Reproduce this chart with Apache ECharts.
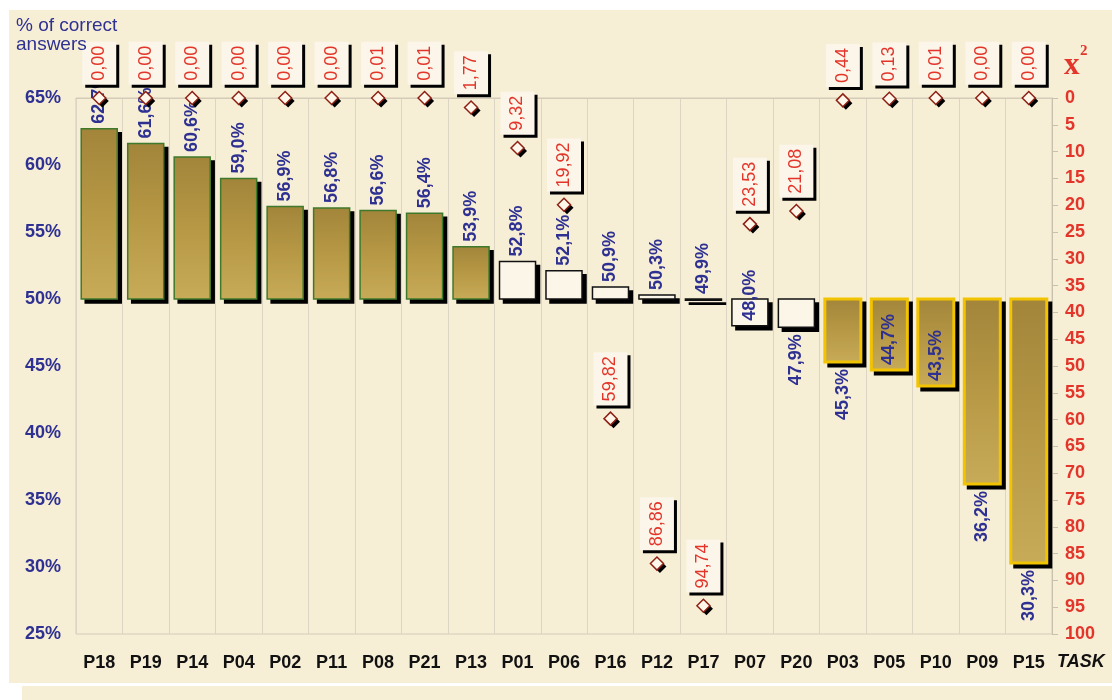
<!DOCTYPE html>
<html>
<head>
<meta charset="utf-8">
<title>% of correct answers and x² by task</title>
<script src="https://cdn.jsdelivr.net/npm/echarts@6/dist/echarts.min.js"></script>
<style>
  html, body { margin: 0; padding: 0; background: #ffffff; }
  #chart { width: 1112px; height: 700px; }
</style>
</head>
<body>
<div id="chart"></div>
<script>
// Tasks in display order
const categories = ['P18', 'P19', 'P14', 'P04', 'P02', 'P11', 'P08', 'P21', 'P13', 'P01', 'P06',
                    'P16', 'P12', 'P17', 'P07', 'P20', 'P03', 'P05', 'P10', 'P09', 'P15'];
// Share of correct answers per task (%)
const correct = [62.7, 61.6, 60.6, 59.0, 56.9, 56.8, 56.6, 56.4, 53.9, 52.8, 52.1,
                 50.9, 50.3, 49.9, 48.0, 47.9, 45.3, 44.7, 43.5, 36.2, 30.3];
// Chi-square statistic per task
const chi2 = [0.00, 0.00, 0.00, 0.00, 0.00, 0.00, 0.01, 0.01, 1.77, 9.32, 19.92,
              59.82, 86.86, 94.74, 23.53, 21.08, 0.44, 0.13, 0.01, 0.00, 0.00];
// Axis tick values
const pctTicks = [25, 30, 35, 40, 45, 50, 55, 60, 65];
const chiTicks = [0, 100];

const BASE = 50;            // bars grow up or down from the 50% line
const CHI_LIMIT = 5;        // tasks below this x² value get a gold bar
const insideLabelTasks = new Set(['P07', 'P05', 'P10']);

const BLUE = '#2e3192';
const RED = '#e3352a';
const SANS = '"Liberation Sans", Arial, sans-serif';
const SERIF = '"Liberation Serif", "Times New Roman", serif';

const comma = (v, d) => v.toFixed(d).replace('.', ',');

function goldFill() {
  return new echarts.graphic.LinearGradient(0, 0, 0, 1, [
    { offset: 0, color: '#a2853a' },
    { offset: 0.5, color: '#b69845' },
    { offset: 1, color: '#c8ab58' }
  ]);
}

function renderBar(params, api) {
  const i = params.dataIndex;
  const v = api.value(1);
  const p0 = api.coord([api.value(0), BASE]);
  const p1 = api.coord([api.value(0), v]);
  const band = api.size([1, 0])[0];
  const w = band * 0.775;
  const x = p0[0] - w / 2;
  const top = Math.min(p0[1], p1[1]);
  const h = Math.max(Math.abs(p1[1] - p0[1]), 1);
  const up = v >= BASE;
  const gold = chi2[i] < CHI_LIMIT;
  const lw = gold && !up ? 3 : 1.5;

  const style = {
    fill: gold ? goldFill() : '#fbf6e8',
    stroke: gold ? (up ? '#3f7a2c' : '#f2c300') : '#111111',
    lineWidth: lw
  };

  let ly, align;
  if (up || h < 3) {
    ly = top - 5; align = 'left';
  } else if (insideLabelTasks.has(categories[i])) {
    ly = top + h - 5; align = 'left';
  } else {
    ly = top + h + 7; align = 'right';
  }

  return {
    type: 'group',
    children: [
      // flat black drop shadow behind the bar
      {
        type: 'rect', z2: 0,
        shape: { x: x + 4 - lw / 2, y: top + 4 - lw / 2, width: w + lw, height: h + lw },
        style: { fill: '#000000' }
      },
      { type: 'rect', z2: 1, shape: { x: x, y: top, width: w, height: h }, style: style },
      {
        type: 'text', x: p0[0], y: ly, rotation: Math.PI / 2, z2: 5,
        style: {
          text: comma(v, 1) + '%',
          fill: BLUE,
          font: 'bold 18px ' + SANS,
          align: align,
          verticalAlign: 'middle'
        }
      }
    ]
  };
}

const chart = echarts.init(document.getElementById('chart'), null, { renderer: 'canvas' });

chart.setOption({
  backgroundColor: '#ffffff',
  animation: false,
  graphic: [
    { type: 'rect', z: -10, shape: { x: 9, y: 10, width: 1103, height: 673 }, style: { fill: '#f7eed6' } },
    { type: 'rect', z: -10, shape: { x: 22, y: 686, width: 1090, height: 14 }, style: { fill: '#f7eed6' } },
    {
      type: 'text', left: 16, top: 16, z: 10,
      style: { text: '% of correct\nanswers', font: '19px ' + SANS, fill: BLUE, lineHeight: 19 }
    },
    {
      type: 'text', x: 1064, y: 66, z: 10,
      style: { text: 'x', font: 'bold 31px ' + SERIF, fill: RED, verticalAlign: 'middle' }
    },
    {
      type: 'text', x: 1080, y: 51, z: 10,
      style: { text: '2', font: 'bold 15px ' + SERIF, fill: RED, verticalAlign: 'middle' }
    },
    {
      type: 'text', x: 1057, y: 662, z: 10,
      style: { text: 'TASK', font: 'italic bold 18px ' + SANS, fill: '#111111', verticalAlign: 'middle' }
    }
  ],
  grid: {
    left: 76, right: 60, top: 98, bottom: 66,
    outerBoundsMode: 'none',
    show: true,
    backgroundColor: 'transparent',
    borderColor: '#d4ccb8',
    borderWidth: 1
  },
  xAxis: {
    type: 'category',
    data: categories,
    boundaryGap: true,
    axisLine: { show: true, lineStyle: { color: '#d4ccb8', width: 1 } },
    axisTick: { show: false },
    splitLine: { show: true, interval: 0, lineStyle: { color: '#ddd5c3', width: 1 } },
    axisLabel: { interval: 0, margin: 20, color: '#111111', fontFamily: SANS, fontWeight: 'bold', fontSize: 18 }
  },
  yAxis: [
    {
      type: 'value',
      min: pctTicks[0], max: pctTicks[pctTicks.length - 1], interval: 5,
      axisLine: { show: false },
      axisTick: { show: false },
      splitLine: { show: false },
      axisLabel: { formatter: '{value}%', margin: 15, color: BLUE, fontFamily: SANS, fontWeight: 'bold', fontSize: 18 }
    },
    {
      type: 'value',
      position: 'right',
      inverse: true,
      min: chiTicks[0], max: chiTicks[1], interval: 5,
      axisLine: { show: true, lineStyle: { color: '#c9c1ad', width: 1 } },
      axisTick: { show: true, length: 6, lineStyle: { color: '#c9c1ad' } },
      splitLine: { show: false },
      axisLabel: { margin: 13, color: RED, fontFamily: SANS, fontWeight: 'bold', fontSize: 18 }
    }
  ],
  series: [
    {
      type: 'custom',
      name: '% of correct answers',
      xAxisIndex: 0,
      yAxisIndex: 0,
      z: 2,
      renderItem: renderBar,
      encode: { x: 0, y: 1 },
      data: correct.map((v, i) => [i, v])
    },
    {
      type: 'scatter',
      name: 'x² shadow',
      xAxisIndex: 0,
      yAxisIndex: 1,
      z: 3,
      symbol: 'diamond',
      symbolSize: 13,
      symbolOffset: [3, 3],
      silent: true,
      itemStyle: { color: '#000000', opacity: 1 },
      emphasis: { disabled: true },
      data: chi2
    },
    {
      type: 'scatter',
      name: 'x²',
      xAxisIndex: 0,
      yAxisIndex: 1,
      z: 4,
      symbol: 'diamond',
      symbolSize: 13,
      itemStyle: {
        color: '#fff8ea',
        borderColor: '#8e2014',
        borderWidth: 1.5,
        opacity: 1
      },
      label: {
        show: true,
        position: 'top',
        distance: 6,
        rotate: 90,
        align: 'left',
        verticalAlign: 'middle',
        formatter: p => comma(p.value, 2),
        color: RED,
        fontFamily: SANS,
        fontSize: 18,
        backgroundColor: '#fbf6e9',
        padding: [8, 4, 8, 4],
        shadowColor: '#000000',
        shadowBlur: 0,
        shadowOffsetX: 3,
        shadowOffsetY: 3
      },
      emphasis: { disabled: true },
      data: chi2
    }
  ]
});
</script>
</body>
</html>
